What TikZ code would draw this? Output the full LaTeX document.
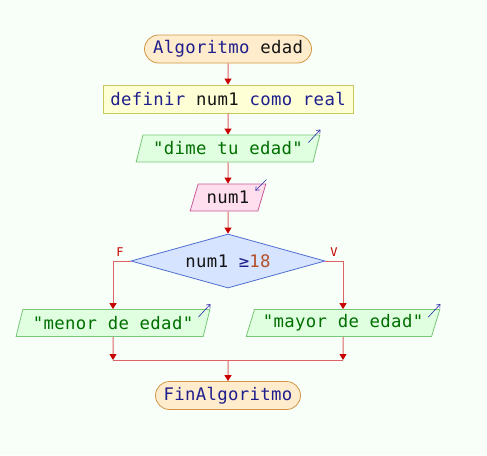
\documentclass[tikz,border=0pt]{standalone}
\usepackage{fontspec}
\newfontfamily\dfont[LetterSpace=2]{DejaVu Sans Mono}
\usetikzlibrary{shapes.geometric,shapes.misc,arrows.meta,calc}
\definecolor{bgc}{RGB}{248,255,248}
\definecolor{kw}{RGB}{30,30,140}
\definecolor{strc}{RGB}{0,110,0}
\definecolor{numc}{RGB}{180,80,40}
\definecolor{txt}{RGB}{20,20,20}
\definecolor{linec}{RGB}{220,100,100}
\definecolor{tipc}{RGB}{200,0,0}
\definecolor{termf}{RGB}{255,236,204}
\definecolor{termd}{RGB}{210,150,70}
\definecolor{procf}{RGB}{255,255,214}
\definecolor{procd}{RGB}{200,200,90}
\definecolor{outf}{RGB}{224,255,224}
\definecolor{outd}{RGB}{120,200,120}
\definecolor{inf}{RGB}{255,222,238}
\definecolor{ind}{RGB}{200,90,150}
\definecolor{decf}{RGB}{214,228,255}
\definecolor{decd}{RGB}{80,110,210}
\definecolor{icon}{RGB}{40,40,170}
\tikzset{
  every node/.style={font=\dfont\fontsize{17.3}{19}\selectfont, text=txt, inner sep=0pt},
  term/.style={rounded rectangle, draw=termd, fill=termf, line width=0.8pt, minimum height=28pt},
  proc/.style={rectangle, draw=procd, fill=procf, line width=0.8pt, minimum height=28pt},
  iobox/.style={trapezium, trapezium left angle=66, trapezium right angle=114, trapezium stretches=true, line width=0.8pt, minimum height=27pt},
  outbox/.style={iobox, draw=outd, fill=outf},
  inbox/.style={iobox, draw=ind, fill=inf},
  dec/.style={diamond, draw=decd, fill=decf, line width=0.8pt, minimum width=194pt, minimum height=54pt, aspect=3.6},
  conn/.style={draw=linec, line width=1pt, -{Triangle[width=7pt,length=6pt,color=tipc]}},
  plain/.style={draw=linec, line width=1pt},
  ic/.style={draw=icon, line width=0.6pt, -{Straight Barb[length=3pt,width=5pt]}},
  lbl/.style={text=tipc, font=\dfont\fontsize{12}{13}\selectfont}
}
\begin{document}
\begin{tikzpicture}[x=1pt,y=-1pt]
\fill[bgc] (0,0) rectangle (487,455);
\useasboundingbox (0,0) rectangle (487,455);
\node[term, minimum width=167pt] (start) at (228,49) {\textcolor{kw}{Algoritmo} edad};
\node[proc, minimum width=250pt] (def) at (228,99) {\textcolor{kw}{definir} num1 \textcolor{kw}{como real}};
\node[outbox, minimum width=184pt] (o1) at (228,148.5) {\textcolor{strc}{"dime tu edad"}};
\node[inbox, minimum width=76pt] (in1) at (228,197.5) {num1};
\node[dec] (d) at (228,261) {num1 \textcolor{kw}{≥}\textcolor{numc}{18}};
\node[outbox, minimum width=194pt] (o2) at (113,323) {\textcolor{strc}{"menor de edad"}};
\node[outbox, minimum width=194pt] (o3) at (343,323) {\textcolor{strc}{"mayor de edad"}};
\node[term, minimum width=145pt] (fin) at (228,395.5) {\textcolor{kw}{FinAlgoritmo}};
\coordinate (jl) at (113,360);
\coordinate (jr) at (343,360);
\coordinate (jm) at (228,360);
\draw[conn] (start) -- (def);
\draw[conn] (def) -- (o1);
\draw[conn] (o1) -- (in1);
\draw[conn] (in1) -- (d);
\draw[conn] (d.west) -| (o2.north);
\draw[conn] (d.east) -| (o3.north);
\draw[conn] (o2.south) -- (jl);
\draw[conn] (o3.south) -- (jr);
\draw[plain] (jl) -- (jr);
\draw[conn] (jm) -- (fin);
\node[lbl] (lf) at (120,252) {F};
\node[lbl] (lv) at (334,252) {V};
\draw[ic] ($(o1.top right corner)+(-12,8)$) -- ($(o1.top right corner)+(0,-5)$);
\draw[ic] ($(o2.top right corner)+(-12,8)$) -- ($(o2.top right corner)+(0,-5)$);
\draw[ic] ($(o3.top right corner)+(-12,8)$) -- ($(o3.top right corner)+(0,-5)$);
\draw[ic] ($(in1.top right corner)+(0,-4)$) -- ($(in1.top right corner)+(-11,7)$);
\end{tikzpicture}
\end{document}
